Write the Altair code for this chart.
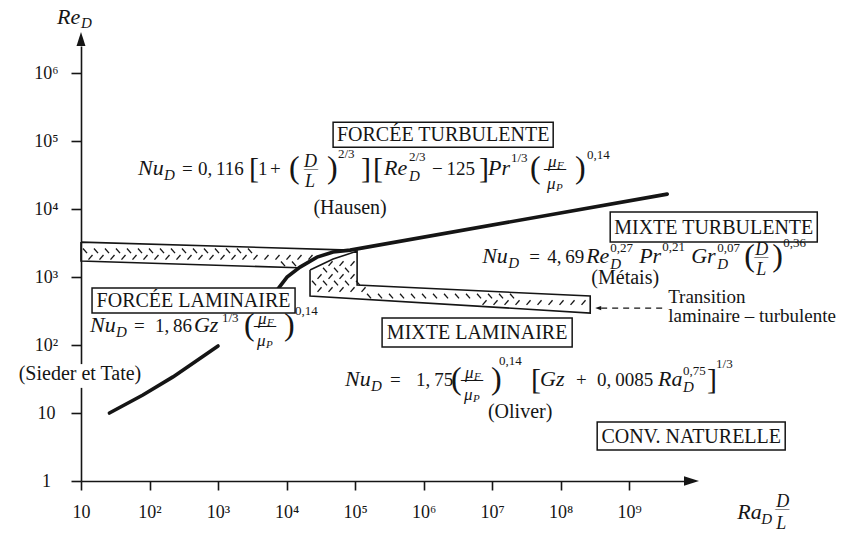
import math
import altair as alt
import pandas as pd

# ---------------------------------------------------------------- axes
ra_ticks = [10, 1e2, 1e3, 1e4, 1e5, 1e6, 1e7, 1e8, 1e9]
re_ticks = [1, 10, 1e2, 1e3, 1e4, 1e5, 1e6]
ra_domain = [10, 10 ** 9.8]
re_domain = [1, 10 ** 6.4]

SUP = str.maketrans("0123456789", "⁰¹²³⁴⁵⁶⁷⁸⁹")
ra_tick_labels = ["10"] + ["10" + str(k).translate(SUP) for k in range(2, 10)]
re_tick_labels = ["1", "10"] + ["10" + str(k).translate(SUP) for k in range(2, 7)]

# ---------------------------------------------------------------- curves
# forced laminar correlation (Sieder et Tate)
laminar_ra = [26, 80, 220, 550, 1000]
laminar_re = [10, 18.4, 34, 64, 97]
# boundary forced / mixed convection
limit_ra = [7260, 10160, 15740, 27860, 47750, 84550, 3.59e9]
limit_re = [644, 1000, 1403, 1968, 2333, 2495, 16630]

# ---------------------------------------------------------------- transition zones
forced_zone_ra = [10, 84550, 47750, 27860, 15000, 10]
forced_zone_re = [3270, 2495, 2333, 1968, 1370, 1720]
mixed_zone_ra = [22000, 47800, 107000, 107000, 2.7e8, 2.7e8, 22000]
mixed_zone_re = [1268, 1840, 2412, 763, 526, 296, 526]

# leader from the note to the mixed transition zone
leader_ra = [3.9e8, 3.59e9]
leader_re = 350

# ---------------------------------------------------------------- regime boxes (decades)
box_names = ["FORCÉE TURBULENTE", "FORCÉE LAMINAIRE", "MIXTE TURBULENTE",
             "MIXTE LAMINAIRE", "CONV. NATURELLE"]
box_lx0 = [4.679, 1.161, 8.723, 5.394, 8.533]
box_lx1 = [7.891, 4.124, 11.745, 8.168, 11.277]
box_ly0 = [5.279, 2.838, 3.956, 2.397, 0.868]
box_ly1 = [4.912, 2.471, 3.515, 1.971, 0.456]
box_text_ly = [5.0, 2.559, 3.640, 2.088, 0.566]

WIDTH, HEIGHT = 603, 435
PX_X = WIDTH / (math.log10(ra_domain[1]) - math.log10(ra_domain[0]))
PX_Y = HEIGHT / (math.log10(re_domain[1]) - math.log10(re_domain[0]))

INK = "#151515"
SERIF = "Liberation Serif"

XS = alt.Scale(type="log", domain=ra_domain, nice=False)
YS = alt.Scale(type="log", domain=re_domain, nice=False)


def label_expr(values, labels):
    expr = f"'{labels[-1]}'"
    for v, lab in reversed(list(zip(values[:-1], labels[:-1]))):
        expr = f"datum.value < {v * 1.5} ? '{lab}' : ({expr})"
    return expr


def xq(field="ra"):
    return alt.X(f"{field}:Q", scale=XS, title=None)


def yq(field="re"):
    return alt.Y(f"{field}:Q", scale=YS, title=None)


# ---------------------------------------------------------------- curves (base layer carries the axes)
curve_df = pd.concat([
    pd.DataFrame({"ra": laminar_ra, "re": laminar_re, "curve": "laminar",
                  "k": range(len(laminar_ra))}),
    pd.DataFrame({"ra": limit_ra, "re": limit_re, "curve": "limit",
                  "k": range(len(limit_ra))}),
])
curves = alt.Chart(curve_df).mark_line(color=INK, strokeWidth=3.6, strokeCap="round").encode(
    x=alt.X("ra:Q", scale=XS, title=None, axis=alt.Axis(
        values=ra_ticks, labelExpr=label_expr(ra_ticks, ra_tick_labels), grid=False,
        domainColor=INK, domainWidth=1.6, tickColor=INK, tickWidth=1.6, tickSize=9,
        labelFont=SERIF, labelFontSize=18, labelColor=INK, labelPadding=13,
        labelFlush=False, labelOverlap=False)),
    y=alt.Y("re:Q", scale=YS, title=None, axis=alt.Axis(
        values=re_ticks, labelExpr=label_expr(re_ticks, re_tick_labels), grid=False,
        domainColor=INK, domainWidth=1.6, tickColor=INK, tickWidth=1.6, tickSize=10,
        labelFont=SERIF, labelFontSize=18, labelColor=INK, labelPadding=25,
        labelAlign="center", labelBaseline="middle", labelFlush=False, labelOverlap=False)),
    detail="curve:N",
    order="k:Q",
)


# ---------------------------------------------------------------- hatched zones
def inside(px, py, poly):
    hit = False
    n = len(poly)
    for i in range(n):
        x1, y1 = poly[i]
        x2, y2 = poly[(i + 1) % n]
        if (y1 > py) != (y2 > py):
            xc = x1 + (py - y1) * (x2 - x1) / (y2 - y1)
            if px < xc:
                hit = not hit
    return hit


def hatch(ra_pts, re_pts):
    poly = [(math.log10(a) * PX_X, math.log10(b) * PX_Y) for a, b in zip(ra_pts, re_pts)]
    xs = [p[0] for p in poly]
    ys = [p[1] for p in poly]
    rows = []
    y = min(ys) + 4.0
    i = 0
    while y < max(ys) - 3:
        x = min(xs) + 4 + (i % 2) * 5.5
        while x < max(xs):
            s = 1 if i % 2 == 0 else -1
            a = (x - 2.0, y + 2.3 * s)
            b = (x + 2.0, y - 2.3 * s)
            test = [(a[0] - 1.2, a[1] + 1.2 * s), (b[0] + 1.2, b[1] - 1.2 * s)]
            if all(inside(p[0], p[1], poly) for p in test):
                rows.append({"ra": 10 ** (a[0] / PX_X), "re": 10 ** (a[1] / PX_Y),
                             "ra2": 10 ** (b[0] / PX_X), "re2": 10 ** (b[1] / PX_Y)})
            x += 11
        y += 6.5
        i += 1
    return pd.DataFrame(rows)


hatch_df = pd.concat([hatch(forced_zone_ra, forced_zone_re),
                      hatch(mixed_zone_ra, mixed_zone_re)])
hatching = alt.Chart(hatch_df).mark_rule(color=INK, strokeWidth=1.3).encode(
    x=xq(), y=yq(), x2="ra2:Q", y2="re2:Q")

zone_rows = []
for name, zr, ze in [("forced", forced_zone_ra, forced_zone_re),
                     ("mixed", mixed_zone_ra, mixed_zone_re)]:
    for k, (a, b) in enumerate(list(zip(zr, ze)) + [(zr[0], ze[0])]):
        zone_rows.append({"ra": a, "re": b, "zone": name, "k": k})
zone_outline = alt.Chart(pd.DataFrame(zone_rows)).mark_line(
    color=INK, strokeWidth=1.6, strokeJoin="miter").encode(
    x=xq(), y=yq(), detail="zone:N", order="k:Q")

# ---------------------------------------------------------------- regime boxes
box_df = pd.DataFrame({
    "name": box_names,
    "ra": [10 ** v for v in box_lx0], "ra2": [10 ** v for v in box_lx1],
    "re": [10 ** v for v in box_ly0], "re2": [10 ** v for v in box_ly1],
    "cx": [10 ** ((a + b) / 2) for a, b in zip(box_lx0, box_lx1)],
    "ty": [10 ** v for v in box_text_ly],
})
boxes = alt.Chart(box_df).mark_rect(fill="white", stroke=INK, strokeWidth=1.5, clip=False).encode(
    x=xq(), x2="ra2:Q", y=yq(), y2="re2:Q")
box_text = alt.Chart(box_df).mark_text(
    font=SERIF, fontSize=20, color=INK, align="center", baseline="alphabetic").encode(
    x=xq("cx"), y=yq("ty"), text="name:N")

# gap in the vertical axis behind the Sieder-Tate note
axis_gap = alt.Chart(pd.DataFrame({"ra": [10 ** 0.94], "ra2": [10 ** 1.10],
                                   "re": [10 ** 1.37], "re2": [10 ** 1.72]})).mark_rect(
    fill="white", clip=False).encode(x=xq(), x2="ra2:Q", y=yq(), y2="re2:Q")

# ---------------------------------------------------------------- text pieces
STYLES = {
    "rm": (19, "normal"), "it": (22, "italic"), "sub": (15, "italic"), "sup": (13, "normal"),
    "fr": (18, "italic"), "frs": (17, "italic"), "fsub": (11, "italic"),
    "par": (32, "normal"), "brk": (30, "normal"),
    "bar14": (14, "normal"), "bar22": (22, "normal"), "note": (20, "normal"),
    "small": (19, "normal"),
}


def piece(text, lx, ly, dx=0, dy=0, kind="rm", align="left"):
    size, style = STYLES[kind]
    df = pd.DataFrame({"ra": [10 ** lx], "re": [10 ** ly], "t": [text]})
    return alt.Chart(df).mark_text(
        align=align, baseline="alphabetic", dx=dx, dy=dy, font=SERIF,
        fontSize=size, fontStyle=style, color=INK).encode(x=xq(), y=yq(), text="t:N")


def formula(lx, ly, parts):
    return [piece(t, lx, ly, dx, dy, kind) for t, dx, dy, kind in parts]


MU_F = [("μ", 0, -8, "frs"), ("F", 9, -6, "fsub"), ("—", -4, 0, "bar22"),
        ("μ", -1, 14, "frs"), ("P", 8, 16, "fsub")]


def mu_ratio(x0):
    return [(t, x0 + dx, dy, k) for t, dx, dy, k in MU_F]


hausen = [
    ("Nu", 0, 0, "it"), ("D", 26, 5, "sub"), ("=", 44, 0, "rm"), ("0,\u2009116", 60, 0, "rm"),
    ("[", 111, 3, "brk"), ("1", 120, 0, "rm"), ("+", 132, 0, "rm"), ("(", 151, 3, "par"),
    ("D", 166, -8, "fr"), ("—", 166, -2, "bar14"), ("L", 167, 12, "fr"), (")", 189, 3, "par"),
    ("2/3", 200, -17, "sup"), ("]", 223, 3, "brk"), ("[", 235, 3, "brk"), ("Re", 246, 0, "it"),
    ("2/3", 271, -14, "sup"), ("D", 271, 6, "sub"), ("−\u2009125", 294, 0, "rm"),
    ("]", 341, 3, "brk"), ("Pr", 350, 0, "it"), ("1/3", 373, -13, "sup"), ("(", 392, 3, "par"),
] + mu_ratio(410) + [(")", 437, 3, "par"), ("0,14", 449, -16, "sup")]

sieder_tate = [
    ("Nu", 0, 0, "it"), ("D", 26, 5, "sub"), ("=", 44, 0, "rm"), ("1,\u200986", 65, 0, "rm"),
    ("Gz", 104, 0, "it"), ("1/3", 132, -10, "sup"), ("(", 154, 3, "par"),
] + mu_ratio(168) + [(")", 194, 3, "par"), ("0,14", 205, -17, "sup")]

metais = [
    ("Nu", 0, 0, "it"), ("D", 26, 5, "sub"), ("=", 47, 0, "rm"), ("4,\u200969", 65, 0, "rm"),
    ("Re", 104, 0, "it"), ("0,27", 128, -11, "sup"), ("D", 128, 6, "sub"),
    ("Pr", 157, 0, "it"), ("0,21", 180, -12, "sup"),
    ("Gr", 209, 0, "it"), ("0,07", 235, -11, "sup"), ("D", 235, 6, "sub"),
    ("(", 262, 3, "par"), ("D", 273, -8, "fr"), ("—", 272, -2, "bar14"), ("L", 274, 12, "fr"),
    (")", 290, 3, "par"), ("0,36", 301, -16, "sup"),
]

oliver = [
    ("Nu", 0, 0, "it"), ("D", 26, 5, "sub"), ("=", 45, 0, "rm"), ("1,\u200975", 71, 0, "rm"),
    ("(", 106, 3, "par"),
] + mu_ratio(120) + [
    (")", 146, 3, "par"), ("0,14", 154, -21, "sup"), ("[", 186, 3, "brk"), ("Gz", 195, 0, "it"),
    ("+", 231, 0, "rm"), ("0,\u20090085", 252, 0, "rm"), ("Ra", 313, 0, "it"),
    ("0,75", 338, -11, "sup"), ("D", 338, 6, "sub"), ("]", 362, 3, "brk"), ("1/3", 371, -18, "sup"),
]

re_title = [("Re", 0, 0, "it"), ("D", 24, 4, "sub")]
ra_title = [("Ra", 0, 0, "it"), ("D", 24, 5, "sub"), ("D", 39, -12, "fr"),
            ("—", 38, -6, "bar14"), ("L", 39, 10, "fr")]

texts = []
texts += formula(1.832, 4.5, hausen)
texts += formula(1.131, 2.191, sieder_tate)
texts += formula(6.854, 3.206, metais)
texts += formula(4.854, 1.397, oliver)
texts += formula(0.650, 6.721, re_title)
texts += formula(10.577, -0.559, ra_title)
texts += [
    piece("(Hausen)", 4.927, 3.926, kind="note", align="center"),
    piece("(Sieder et Tate)", 0.985, 1.485, kind="note", align="center"),
    piece("(Métais)", 8.942, 2.897, kind="note", align="center"),
    piece("(Oliver)", 7.409, 0.926, kind="note", align="center"),
    piece("Transition", 9.569, 2.618, kind="small"),
    piece("laminaire – turbulente", 9.569, 2.338, kind="small"),
]

# ---------------------------------------------------------------- leader and axis arrows
leader = alt.Chart(pd.DataFrame({"ra": [leader_ra[0]], "ra2": [leader_ra[1]], "re": [leader_re]})).mark_rule(
    color=INK, strokeWidth=1.4, strokeDash=[6, 5]).encode(x=xq(), x2="ra2:Q", y=yq())
leader_head = alt.Chart(pd.DataFrame({"ra": [leader_ra[0]], "re": [leader_re]})).mark_point(
    shape="M-1,0L0,-0.35L0,0.35Z", size=144, filled=True, color=INK, opacity=1).encode(x=xq(), y=yq())

y_arrow = alt.Chart(pd.DataFrame({"ra": [ra_domain[0]], "re": [re_domain[1]]})).mark_point(
    shape="M0,-1L0.32,0L-0.32,0Z", size=784, filled=True, color=INK, opacity=1, clip=False).encode(
    x=xq(), y=yq())
x_arrow = alt.Chart(pd.DataFrame({"ra": [ra_domain[1]], "re": [re_domain[0]]})).mark_point(
    shape="M1,0L0,-0.32L0,0.32Z", size=900, filled=True, color=INK, opacity=1, clip=False).encode(
    x=xq(), y=yq())

chart = alt.layer(
    curves, hatching, zone_outline, axis_gap, boxes, box_text, leader, leader_head,
    y_arrow, x_arrow, *texts
).properties(
    width=WIDTH, height=HEIGHT,
    autosize=alt.AutoSizeParams(type="none"),
    padding={"left": 81, "top": 46, "right": 842 - 81 - WIDTH, "bottom": 542 - 46 - HEIGHT},
    background="white",
).configure_view(stroke=None)

chart.save("out.html", embed_options={"renderer": "svg", "actions": False})
